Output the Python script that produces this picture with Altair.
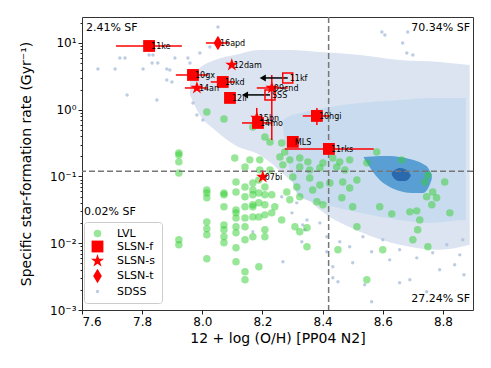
import altair as alt
import pandas as pd

# ---------------- categories / legend ----------------
CATS = ["LVL", "SLSN-f", "SLSN-s", "SLSN-t", "SDSS"]
CAT_COLORS = ["rgba(50,205,50,0.5)", "#ff0000", "#ff0000", "#ff0000", "rgba(176,196,222,0.85)"]
STAR = ("M0,-1L0.2245,-0.309L0.9511,-0.309L0.3633,0.118L0.5878,0.809L0,0.382"
        "L-0.5878,0.809L-0.3633,0.118L-0.9511,-0.309L-0.2245,-0.309Z")
THIN_DIAMOND = "M0,-1L0.6,0L0,1L-0.6,0Z"
CAT_SHAPES = ["circle", "square", STAR, THIN_DIAMOND, "circle"]
CAT_SIZES = [56, 140, 190, 210, 12]

# ---------------- SLSN hosts ----------------
slsn_name = ["11ke", "16apd", "12dam", "10gx", "10kd", "14an", "12il", "09cnd",
             "15bn", "14mo", "10hgi", "MLS", "11rks", "07bi"]
slsn_cat = ["SLSN-f", "SLSN-t", "SLSN-s", "SLSN-f", "SLSN-f", "SLSN-s", "SLSN-f", "SLSN-s",
            "SLSN-s", "SLSN-f", "SLSN-f", "SLSN-f", "SLSN-f", "SLSN-s"]
slsn_met = [7.823, 8.052, 8.098, 7.969, 8.068, 7.982, 8.092, 8.231,
            8.181, 8.185, 8.381, 8.301, 8.421, 8.201]
slsn_logssfr = [0.955, 1.000, 0.671, 0.521, 0.416, 0.326, 0.177, 0.326,
                -0.123, -0.198, -0.093, -0.482, -0.587, -1.006]

# upper limits in metallicity (open squares with arrows)
lim_name = ["11kf", "SSS"]
lim_met = [8.284, 8.225]
lim_to = [8.201, 8.142]
lim_logssfr = [0.476, 0.222]

# horizontal error bars
xerr_lo = [7.713, 8.012, 7.912, 8.028, 7.942, 8.181, 8.132, 8.334, 8.274]
xerr_hi = [7.932, 8.090, 8.020, 8.108, 8.019, 8.284, 8.231, 8.424, 8.570]
xerr_logssfr = [0.955, 1.000, 0.521, 0.416, 0.326, 0.326, -0.198, -0.093, -0.587]
# vertical error bars
yerr_met = [8.231, 8.181, 8.381]
yerr_lo = [-0.452, -0.272, -0.228]
yerr_hi = [0.521, 0.027, 0.027]

# ---------------- LVL galaxies ----------------
lvl_met = [7.922, 7.922, 7.922, 7.922, 7.922, 7.922, 8.015, 8.072,
           8.015, 8.015, 8.015, 8.015, 8.015, 8.015, 8.015,
           8.072, 8.072, 8.072, 8.072, 8.072, 8.072, 8.072,
           8.112, 8.112, 8.112, 8.112, 8.112, 8.112, 8.112, 8.112, 8.112,
           8.142, 8.142, 8.142, 8.142, 8.142, 8.142, 8.142, 8.142,
           8.168, 8.168, 8.168, 8.168, 8.168, 8.168, 8.168,
           8.188, 8.188, 8.188, 8.188, 8.188,
           8.208, 8.208, 8.208, 8.208, 8.208, 8.208,
           8.231, 8.231, 8.241, 8.264, 8.281, 8.291, 8.308, 8.324, 8.324,
           8.348, 8.348, 8.381, 8.401, 8.451,
           8.168, 8.208, 8.225, 8.264, 8.108, 8.158, 8.191, 8.142, 8.258, 8.291,
           8.274, 8.324, 8.324, 8.191, 8.351, 8.357, 8.391, 8.401, 8.434, 8.447,
           8.457, 8.474, 8.490, 8.467, 8.490, 8.225, 8.268, 8.301, 8.357, 8.391,
           8.424, 8.314, 8.367, 8.514,
           8.580, 8.547, 8.663, 8.750, 8.806, 8.740, 8.766, 8.746, 8.779, 8.763,
           8.590, 8.630, 8.690, 8.713, 8.723, 8.823, 8.716, 8.700, 8.750, 8.600,
           8.514, 8.500, 8.464, 8.547]
lvl_logssfr = [-0.647, -0.677, -0.781, -0.946, -1.949, -2.024, -0.033, -0.138,
               -1.201, -1.246, -1.320, -1.680, -1.784, -1.874, -2.234,
               -1.246, -1.275, -1.455, -1.725, -1.799, -1.904, -1.994,
               -1.081, -1.231, -1.500, -1.545, -1.620, -1.754, -1.844, -2.069, -2.278,
               -1.156, -1.305, -1.455, -1.620, -1.754, -1.949, -2.428, -2.548,
               -1.096, -1.201, -1.275, -1.425, -1.455, -1.605, -1.904,
               -1.051, -1.246, -1.395, -1.605, -2.353,
               -1.156, -1.275, -1.425, -1.575, -1.799, -1.904,
               -1.275, -1.545, -1.455, -1.650, -1.231, -1.350, -1.754, -1.305, -1.829,
               -1.769, -2.054, -1.380, -1.425, -2.099,
               -0.257, -0.407, -0.482, -0.497, -0.722, -0.751, -0.751, -0.856, -0.707, -0.751,
               -0.632, -0.722, -0.856, -0.901, -0.781, -0.901, -0.871, -0.796, -0.722, -0.856,
               -0.781, -0.901, -0.751, -1.081, -1.171, -0.901, -0.826, -1.006, -1.021, -1.126,
               -1.096, -1.156, -1.201, -1.051,
               -0.632, -0.796, -0.751, -0.976, -1.081, -1.081, -1.231, -1.305, -1.320, -1.425,
               -1.455, -1.560, -1.530, -1.515, -1.650, -1.545, -1.799, -1.949, -2.054, -2.099,
               -1.754, -1.455, -1.320, -2.548]

# ---------------- SDSS ----------------
sdss_met = [7.726, 7.743, 7.710, 7.803, 7.833, 7.852, 7.823, 7.836, 7.882, 7.892,
            7.909, 7.952, 7.959, 7.882, 7.899, 7.750, 7.849, 7.992, 8.025, 8.052,
            7.982, 8.002, 7.969, 7.653, 8.597, 8.607, 8.666, 8.680, 8.700, 8.683,
            8.268, 8.331, 8.334, 8.391, 8.414, 8.434, 8.451, 8.168, 8.298, 8.264,
            8.314, 8.334, 8.348, 8.341, 8.414, 8.457, 8.490, 8.534, 8.563, 8.600,
            8.656, 8.713, 8.766, 8.813, 8.856, 8.866, 8.623, 8.500, 8.434, 8.540,
            8.563, 8.656, 8.690, 8.746, 8.789, 8.839, 8.870]
sdss_logssfr = [0.775, 0.775, 0.611, 0.611, 0.701, 0.701, 0.820, 0.820, 0.611, 0.596,
                0.775, 0.775, 0.701, 0.446, 0.416, 0.222, 0.147, 0.850, 0.940, 1.240,
                -0.078, -0.153, 0.102, 0.611, 1.165, 1.120, 1.000, 0.850, 0.820, 1.165,
                -2.278, -1.979, -1.725, -1.695, -2.129, -2.518, -2.578, -1.829, -1.545, -1.305,
                -1.395, -1.246, -1.650, -1.799, -1.904, -1.979, -2.054, -1.904, -2.129, -1.949,
                -2.099, -2.219, -2.144, -2.024, -2.174, -1.949, -2.249, -2.293, -2.353, -2.623,
                -2.877, -2.593, -2.548, -2.728, -2.398, -2.323, -2.473]

# dense SDSS cloud envelope
halo_met = [7.959, 7.992, 8.042, 8.108, 8.191, 8.291, 8.391, 8.524, 8.656, 8.789, 8.889]
halo_top = [0.446, 0.626, 0.745, 0.820, 0.895, 0.895, 0.865, 0.820, 0.745, 0.716, 0.671]
halo_bot = [0.222, -0.078, -0.303, -0.527, -0.677, -1.051, -1.500, -1.829, -2.024, -2.099, -2.024]

# density contours (outer, middle, inner)
c1_met = [8.268, 8.291, 8.324, 8.424, 8.524, 8.656, 8.756, 8.872, 8.876]
c1_top = [-0.153, -0.093, -0.048, 0.042, 0.102, 0.147, 0.177, 0.177, 0.177]
c1_bot = [-0.273, -0.901, -1.305, -1.440, -1.545, -1.650, -1.695, -1.650, -1.650]
c2_met = [8.537, 8.563, 8.590, 8.623, 8.656, 8.696, 8.733, 8.753, 8.763]
c2_top = [-0.707, -0.699, -0.692, -0.692, -0.707, -0.744, -0.811, -0.886, -0.976]
c2_bot = [-0.722, -0.901, -1.051, -1.156, -1.216, -1.246, -1.246, -1.156, -1.036]
c3_met = [8.630, 8.640, 8.656, 8.673, 8.686, 8.693]
c3_top = [-0.931, -0.901, -0.871, -0.886, -0.931, -0.976]
c3_bot = [-0.976, -1.036, -1.066, -1.066, -1.036, -0.991]

# reference lines and quadrant fractions
ref_met = 8.42
ref_ssfr = 0.12
ann_text_left = ["2.41% SF", "0.02% SF"]
ann_met_left = [7.613, 7.607]
ann_log_left = [1.224, -1.53]
ann_text_right = ["70.34% SF", "27.24% SF"]
ann_met_right = [8.89, 8.89]
ann_log_right = [1.224, -2.832]

YMAJOR = [0.001, 0.01, 0.1, 1, 10]
YMINOR = [k * m for m in [0.001, 0.01, 0.1, 1, 10] for k in range(2, 10) if k * m < 24.5]
XTICKS = [7.6, 7.8, 8.0, 8.2, 8.4, 8.6, 8.8]


def p10(v):
    return [10 ** a for a in v]


FONT = "DejaVu Sans"
XSCALE = alt.Scale(domain=[7.6, 8.9], nice=False, zero=False)
YSCALE = alt.Scale(type="log", domain=[0.001, 24.5], nice=False)
XAXIS = alt.Axis(values=XTICKS, format=".1f", title="12 + log (O/H) [PP04 N2]",
                 grid=False, domain=False, tickSize=4, labelFontSize=12, titleFontSize=14,
                 labelPadding=2, titlePadding=4, tickColor="#222", labelColor="#000",
                 titleColor="#000", titleFontWeight="normal")
YAXIS = alt.Axis(values=sorted(YMAJOR + YMINOR),
                 labelExpr=("datum.value==10?'10¹':datum.value==1?'10⁰':datum.value==0.1?'10⁻¹':"
                            "datum.value==0.01?'10⁻²':datum.value==0.001?'10⁻³':''"),
                 tickSize={"condition": {"test": "abs(log(datum.value)/LN10 - round(log(datum.value)/LN10)) < 0.001",
                                         "value": 4}, "value": 2},
                 title="Specific star-formation rate (Gyr⁻¹)",
                 grid=False, domain=False, labelFontSize=12, titleFontSize=14,
                 labelPadding=2, titlePadding=16, tickColor="#222", labelColor="#000",
                 titleColor="#000", titleFontWeight="normal")


def xenc(f="met"):
    return alt.X(f"{f}:Q", scale=XSCALE, axis=XAXIS)


def yenc(f="ssfr"):
    return alt.Y(f"{f}:Q", scale=YSCALE, axis=YAXIS)


def cat_points(df):
    return alt.Chart(df).mark_point(filled=True, strokeWidth=0, opacity=1).encode(
        x=xenc(), y=yenc(),
        color=alt.Color("cat:N", scale=alt.Scale(domain=CATS, range=CAT_COLORS), title=None),
        shape=alt.Shape("cat:N", scale=alt.Scale(domain=CATS, range=CAT_SHAPES), title=None),
        size=alt.Size("cat:N", scale=alt.Scale(type="ordinal", domain=CATS, range=CAT_SIZES), title=None),
    )


def band(met, top, bot, color, opacity=1.0):
    df = pd.DataFrame({"met": met, "ssfr": p10(top), "ssfr2": p10(bot)})
    return alt.Chart(df).mark_area(color=color, opacity=opacity, interpolate="monotone").encode(
        x=xenc(), y=yenc(), y2=alt.Y2("ssfr2:Q"))


sdss_df = pd.DataFrame({"met": sdss_met, "ssfr": p10(sdss_logssfr), "cat": "SDSS"})
lvl_df = pd.DataFrame({"met": lvl_met, "ssfr": p10(lvl_logssfr), "cat": "LVL"})
slsn_df = pd.DataFrame({"met": slsn_met, "ssfr": p10(slsn_logssfr), "cat": slsn_cat, "name": slsn_name})
lim_df = pd.DataFrame({"met": lim_met, "to": lim_to, "ssfr": p10(lim_logssfr), "name": lim_name})
xerr_df = pd.DataFrame({"met": xerr_lo, "met2": xerr_hi, "ssfr": p10(xerr_logssfr)})
yerr_df = pd.DataFrame({"met": yerr_met, "ssfr": p10(yerr_lo), "ssfr2": p10(yerr_hi)})
lab_df = pd.concat([slsn_df[["met", "ssfr", "name"]], lim_df[["met", "ssfr", "name"]]])

halo = band(halo_met, halo_top, halo_bot, "#b0c4de", 0.45)
sdss = cat_points(sdss_df)
c1 = band(c1_met, c1_top, c1_bot, "#c9dcef")
c2 = band(c2_met, c2_top, c2_bot, "#5a9fd4")
c3 = band(c3_met, c3_top, c3_bot, "#2a69ad")
lvl = cat_points(lvl_df)

vline = alt.Chart(pd.DataFrame({"met": [ref_met]})).mark_rule(
    color="#777", strokeDash=[6, 3], strokeWidth=1.5).encode(x=xenc())
hline = alt.Chart(pd.DataFrame({"ssfr": [ref_ssfr]})).mark_rule(
    color="#777", strokeDash=[6, 3], strokeWidth=1.5).encode(y=yenc())

xerr = alt.Chart(xerr_df).mark_rule(color="#ff0000", strokeWidth=1.5).encode(
    x=xenc(), x2=alt.X2("met2:Q"), y=yenc())
yerr = alt.Chart(yerr_df).mark_rule(color="#ff0000", strokeWidth=1.5).encode(
    x=xenc(), y=yenc(), y2=alt.Y2("ssfr2:Q"))
slsn = cat_points(slsn_df)

arrow_line = alt.Chart(lim_df).mark_rule(color="black", strokeWidth=1.5).encode(
    x=xenc("to"), x2=alt.X2("met:Q"), y=yenc())
arrow_head = alt.Chart(lim_df).mark_point(shape="triangle-left", filled=True, color="black",
                                          size=50, opacity=1, strokeWidth=0).encode(
    x=xenc("to"), y=yenc())
lim_pts = alt.Chart(lim_df).mark_point(shape="square", filled=False, color="#ff0000",
                                       size=100, strokeWidth=1.5, opacity=1).encode(
    x=xenc(), y=yenc())

labels = alt.Chart(lab_df).mark_text(align="left", baseline="middle", dx=2, dy=1,
                                     fontSize=8, font=FONT, color="black").encode(
    x=xenc(), y=yenc(), text="name:N")

ann_l = alt.Chart(pd.DataFrame({"met": ann_met_left, "ssfr": p10(ann_log_left), "t": ann_text_left})).mark_text(
    align="left", baseline="middle", fontSize=11, font=FONT, color="black").encode(
    x=xenc(), y=yenc(), text="t:N")
ann_r = alt.Chart(pd.DataFrame({"met": ann_met_right, "ssfr": p10(ann_log_right), "t": ann_text_right})).mark_text(
    align="right", baseline="middle", fontSize=11, font=FONT, color="black").encode(
    x=xenc(), y=yenc(), text="t:N")

chart = alt.layer(
    halo, sdss, c1, c2, c3, lvl, vline, hline, xerr, yerr, slsn,
    arrow_line, arrow_head, lim_pts, labels, ann_l, ann_r
).properties(
    width=391, height=293,
    padding={"left": 74, "top": 9, "right": 10, "bottom": 40},
    autosize=alt.AutoSizeParams(type="none"),
).configure(font=FONT).configure_view(
    stroke="#333", strokeWidth=1
).configure_axis(
    labelFont=FONT, titleFont=FONT
).configure_legend(
    orient="none", legendX=2, legendY=205, padding=6,
    fillColor="rgba(255,255,255,0.85)", strokeColor="#cccccc", cornerRadius=3,
    labelFont=FONT, labelFontSize=11, labelColor="black", labelOffset=12,
    rowPadding=1.5, symbolStrokeWidth=0,
)

chart.save("out.html", embed_options={"renderer": "svg", "actions": False})
